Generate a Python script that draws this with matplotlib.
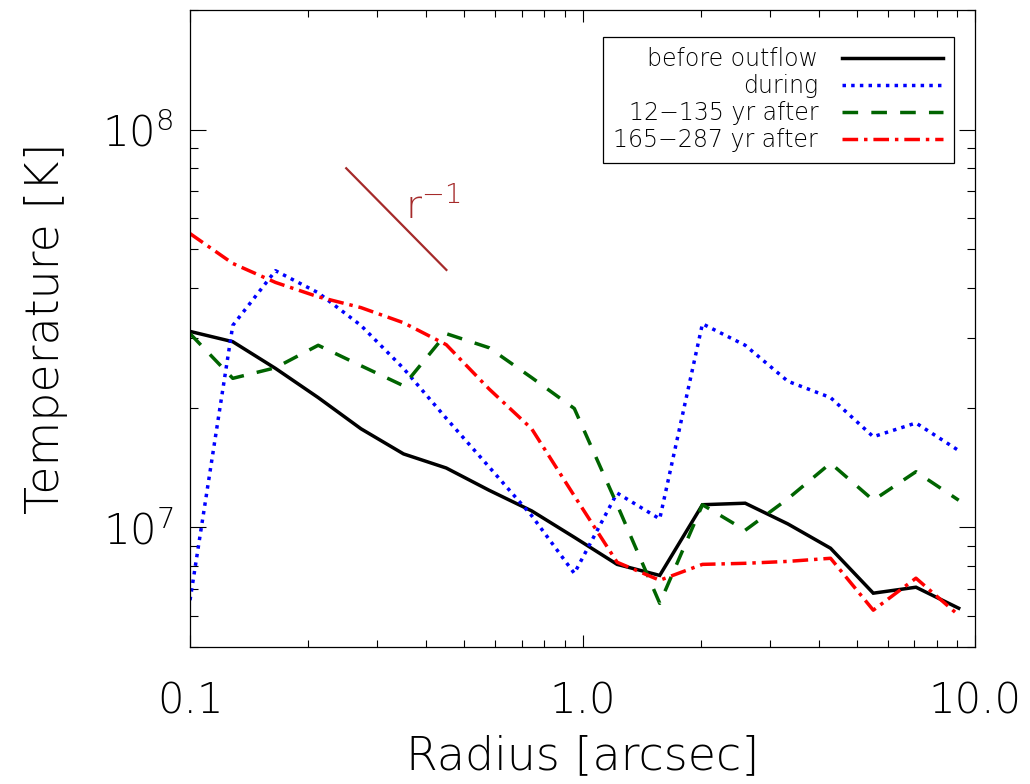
import math
import matplotlib
matplotlib.use("Agg")
import matplotlib.pyplot as plt
from matplotlib.ticker import FixedLocator, NullFormatter, FuncFormatter, LogLocator

plt.rcParams['font.family'] = ['DejaVu Sans']
plt.rcParams['font.weight'] = 'ultralight'
plt.rcParams['axes.labelweight'] = 'ultralight'
plt.rcParams['mathtext.default'] = 'regular'

# radial bins [arcsec]
radius = [0.100, 0.1285, 0.1651, 0.2121, 0.2725, 0.3499, 0.4496, 0.5776, 0.742,
          0.953, 1.225, 1.573, 2.021, 2.597, 3.336, 4.285, 5.506, 7.072, 9.087]

# temperature profiles [K]
t_before = [3.11e7, 2.93e7, 2.51e7, 2.12e7, 1.77e7, 1.53e7, 1.41e7, 1.24e7, 1.10e7,
            9.44e6, 8.07e6, 7.57e6, 1.14e7, 1.15e7, 1.02e7, 8.86e6, 6.83e6, 7.07e6, 6.26e6]
t_during = [6.56e6, 3.22e7, 4.42e7, 3.89e7, 3.22e7, 2.51e7, 1.88e7, 1.42e7, 1.07e7,
            7.66e6, 1.22e7, 1.05e7, 3.25e7, 2.87e7, 2.33e7, 2.12e7, 1.69e7, 1.83e7, 1.56e7]
t_after1 = [3.07e7, 2.37e7, 2.52e7, 2.87e7, 2.55e7, 2.27e7, 3.07e7, 2.83e7, 2.38e7,
            1.99e7, 1.14e7, 6.44e6, 1.14e7, 9.83e6, 1.18e7, 1.45e7, 1.17e7, 1.38e7, 1.17e7]
t_after2 = [5.48e7, 4.61e7, 4.13e7, 3.80e7, 3.57e7, 3.27e7, 2.88e7, 2.23e7, 1.77e7,
            1.20e7, 8.17e6, 7.36e6, 8.07e6, 8.12e6, 8.21e6, 8.36e6, 6.19e6, 7.45e6, 6.01e6]

labels = ['before outflow', 'during', '12\u2212135 yr after', '165\u2212287 yr after']

# r^-1 guide line
ref_x = [0.25, 0.45]
ref_y = [8.0e7, 4.44e7]

fig = plt.figure(figsize=(10.3, 7.84), dpi=100)
ax = fig.add_axes([0.1845, 0.1747, 0.7621, 0.8125])

lw = 2.5
ax.plot(radius, t_before, color='black', lw=lw, solid_joinstyle='miter', label=labels[0])
ax.plot(radius, t_during, color='blue', lw=lw, dashes=(1.0, 1.5), label=labels[1])
ax.plot(radius, t_after1, color='#006400', lw=lw, dashes=(4.5, 3.8), label=labels[2])
ax.plot(radius, t_after2, color='red', lw=lw, dashes=(4.5, 1.7, 1.0, 1.7), label=labels[3])

ax.plot(ref_x, ref_y, color='#a52a2a', lw=1.6)
ax.text(0.352, 6.0e7, '$r^{-1}$', color='#a52a2a', fontsize=28, va='baseline', ha='left')

ax.set_xscale('log')
ax.set_yscale('log')
ax.set_xlim(0.1, 10.0)
ax.set_ylim(5e6, 2e8)

ax.xaxis.set_major_locator(FixedLocator([0.1, 1.0, 10.0]))
ax.xaxis.set_major_formatter(FuncFormatter(lambda v, p: '%.1f' % v))
ax.xaxis.set_minor_locator(LogLocator(base=10, subs=range(2, 10)))
ax.xaxis.set_minor_formatter(NullFormatter())
ax.yaxis.set_major_locator(FixedLocator([1e7, 1e8]))
ax.yaxis.set_major_formatter(FuncFormatter(lambda v, p: r'$10^{%d}$' % round(math.log10(v))))
ax.yaxis.set_minor_locator(LogLocator(base=10, subs=range(2, 10)))
ax.yaxis.set_minor_formatter(NullFormatter())

ax.tick_params(axis='both', which='both', direction='in', top=True, right=True,
               width=0.8, labelsize=30)
ax.tick_params(axis='x', which='major', length=8.6, pad=24)
ax.tick_params(axis='x', which='minor', length=5)
ax.tick_params(axis='y', which='major', length=11.5, pad=12)
ax.tick_params(axis='y', which='minor', length=5.8)
for s in ax.spines.values():
    s.set_linewidth(0.9)

ax.set_xlabel('Radius [arcsec]', fontsize=33, fontweight='ultralight', labelpad=9)
ax.set_ylabel('Temperature [K]', fontsize=33, fontweight='ultralight', labelpad=25)

leg = ax.legend(loc='upper right', bbox_to_anchor=(0.973, 0.958), borderaxespad=0,
                markerfirst=False, fontsize=17, handlelength=4.3, handletextpad=1.0,
                labelspacing=0.12, borderpad=0.45, fancybox=False, framealpha=1,
                edgecolor='black')
leg.get_frame().set_linewidth(0.9)

fig.savefig('out.png', dpi=100)
